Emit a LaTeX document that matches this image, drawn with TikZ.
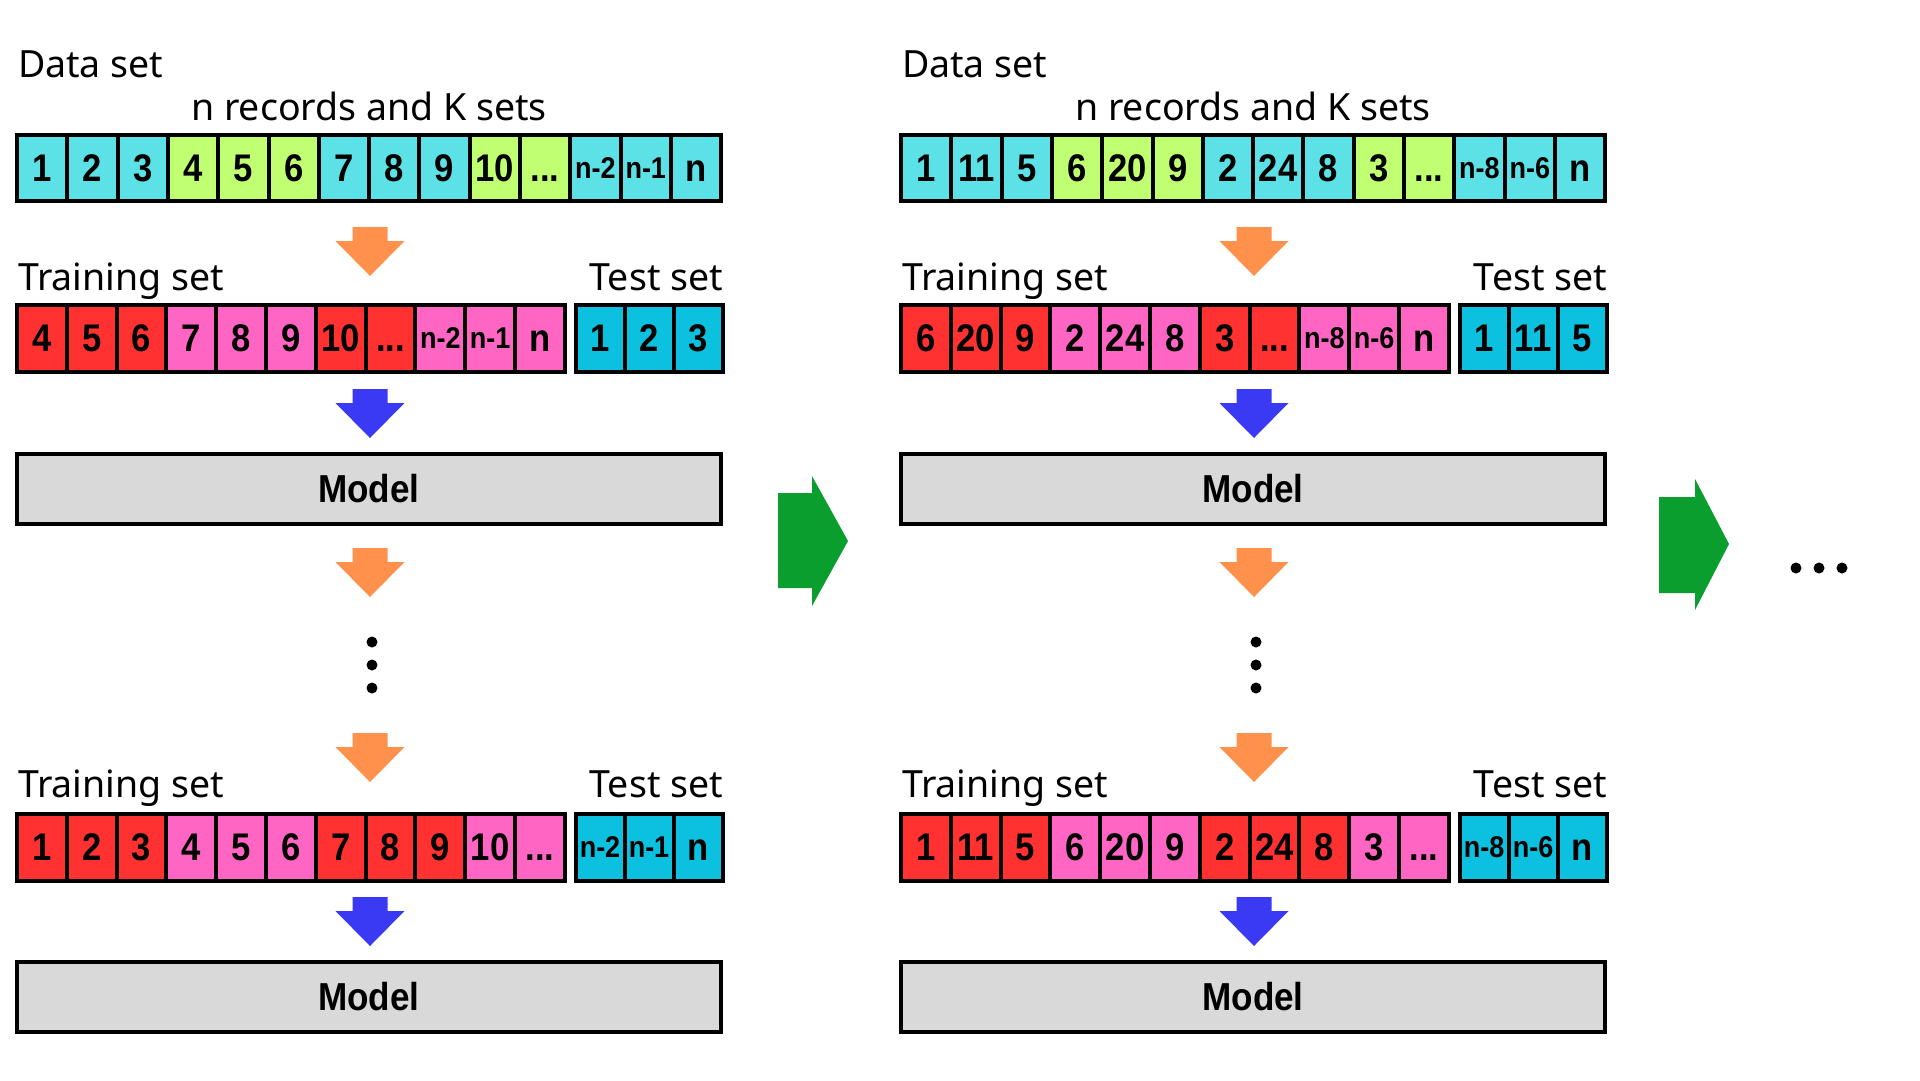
\documentclass[tikz,border=0pt]{standalone}
\usepackage{fontspec}
\setmainfont{Noto Sans}
\newfontfamily\cellfont{Liberation Sans}[FakeStretch=0.9]
\definecolor{cy}{HTML}{5CE1E6}
\definecolor{gr}{HTML}{C1FF72}
\definecolor{rd}{HTML}{FF3131}
\definecolor{pk}{HTML}{FF66C4}
\definecolor{tc}{HTML}{0CC0DF}
\definecolor{gry}{HTML}{D9D9D9}
\definecolor{org}{HTML}{FF914D}
\definecolor{blu}{HTML}{3A3AF4}
\definecolor{grn}{HTML}{0A9E2E}
\newcommand\sm[1]{\raisebox{3pt}{\fontsize{30}{30}\selectfont #1}}
\newcommand\dd{...}
\newcommand\ct[1]{\vphantom{0}#1}
\tikzset{
  lbl/.style={inner sep=0pt, outer sep=0pt, font=\fontsize{37.5}{37.5}\selectfont},
  cellbox/.style={draw=black, line width=4pt, inner sep=0pt, outer sep=0pt,
    font=\cellfont\bfseries\fontsize{38.5}{38.5}\selectfont},
  modelbox/.style={draw=black, line width=4pt, fill=gry, inner sep=0pt, outer sep=0pt,
    minimum width=704pt, minimum height=70pt,
    font=\cellfont\bfseries\fontsize{39}{39}\selectfont},
}
% down block arrow: #1 x centre, #2 y top, #3 colour
\newcommand\darrow[3]{%
  \fill[#3] ({#1-17.5},{#2}) -- ({#1+17.5},{#2}) -- ({#1+17.5},{#2+14})
    -- ({#1+34.5},{#2+14}) -- ({#1},{#2+49}) -- ({#1-34.5},{#2+14})
    -- ({#1-17.5},{#2+14}) -- cycle;}
% panel: #1 prefix, #2 data, #3 train1, #4 test1, #5 train2, #6 test2
\newcommand\panel[6]{%
  \node[lbl, anchor=base west] (#1-title) at (18,77) {Data set};
  \node[lbl, anchor=base] (#1-sub) at (369,120) {n records and K sets};
  \foreach[count=\k] \c/\t in {#2} {
    \node[cellbox, fill=\c, minimum width=50.3pt, minimum height=66pt]
      (#1-d\k) at ({17+(\k-0.5)*50.3},168) {\ct{\t}};
  }
  \darrow{370}{227}{org}
  \node[lbl, anchor=base west] (#1-tr1) at (18,290) {Training set};
  \node[lbl, anchor=base east] (#1-te1) at (723,290) {Test set};
  \foreach[count=\k] \c/\t in {#3} {
    \node[cellbox, fill=\c, minimum width=49.8pt, minimum height=67pt]
      (#1-a\k) at ({17+(\k-0.5)*49.8},338.5) {\ct{\t}};
  }
  \foreach[count=\k] \c/\t in {#4} {
    \node[cellbox, fill=\c, minimum width=49pt, minimum height=67pt]
      (#1-b\k) at ({575.5+(\k-0.5)*49},338.5) {\ct{\t}};
  }
  \darrow{370}{389}{blu}
  \node[modelbox] (#1-m1) at (369,489) {Model};
  \darrow{370}{548}{org}
  \fill (372,642) circle[radius=5.5] (372,665) circle[radius=5.5] (372,688) circle[radius=5.5];
  \darrow{370}{733}{org}
  \node[lbl, anchor=base west] (#1-tr2) at (18,797) {Training set};
  \node[lbl, anchor=base east] (#1-te2) at (723,797) {Test set};
  \foreach[count=\k] \c/\t in {#5} {
    \node[cellbox, fill=\c, minimum width=49.8pt, minimum height=67pt]
      (#1-c\k) at ({17+(\k-0.5)*49.8},847) {\ct{\t}};
  }
  \foreach[count=\k] \c/\t in {#6} {
    \node[cellbox, fill=\c, minimum width=49pt, minimum height=67pt]
      (#1-e\k) at ({575.5+(\k-0.5)*49},847) {\ct{\t}};
  }
  \darrow{370}{897}{blu}
  \node[modelbox] (#1-m2) at (369,996.5) {Model};
}
\begin{document}
\begin{tikzpicture}[x=1pt, y=-1pt]
\fill[white] (0,0) rectangle (1920,1080);
\useasboundingbox (0,0) rectangle (1920,1080);
\panel{L}
 {cy/1,cy/2,cy/3,gr/4,gr/5,gr/6,cy/7,cy/8,cy/9,gr/10,gr/\dd,cy/\sm{n-2},cy/\sm{n-1},cy/n}
 {rd/4,rd/5,rd/6,pk/7,pk/8,pk/9,rd/10,rd/\dd,pk/\sm{n-2},pk/\sm{n-1},pk/n}
 {tc/1,tc/2,tc/3}
 {rd/1,rd/2,rd/3,pk/4,pk/5,pk/6,rd/7,rd/8,rd/9,pk/10,pk/\dd}
 {tc/\sm{n-2},tc/\sm{n-1},tc/n}
\begin{scope}[xshift=884pt]
\panel{R}
 {cy/1,cy/11,cy/5,gr/6,gr/20,gr/9,cy/2,cy/24,cy/8,gr/3,gr/\dd,cy/\sm{n-8},cy/\sm{n-6},cy/n}
 {rd/6,rd/20,rd/9,pk/2,pk/24,pk/8,rd/3,rd/\dd,pk/\sm{n-8},pk/\sm{n-6},pk/n}
 {tc/1,tc/11,tc/5}
 {rd/1,rd/11,rd/5,pk/6,pk/20,pk/9,rd/2,rd/24,rd/8,pk/3,pk/\dd}
 {tc/\sm{n-8},tc/\sm{n-6},tc/n}
\end{scope}
\fill[grn] (778,493) -- (812,493) -- (812,476) -- (848,541) -- (812,606) -- (812,588) -- (778,588) -- cycle;
\fill[grn] (1659,497) -- (1695,497) -- (1695,479) -- (1729,544) -- (1695,610) -- (1695,593) -- (1659,593) -- cycle;
\fill (1796,568) circle[radius=5.5] (1819,568) circle[radius=5.5] (1842,568) circle[radius=5.5];
\end{tikzpicture}
\end{document}
